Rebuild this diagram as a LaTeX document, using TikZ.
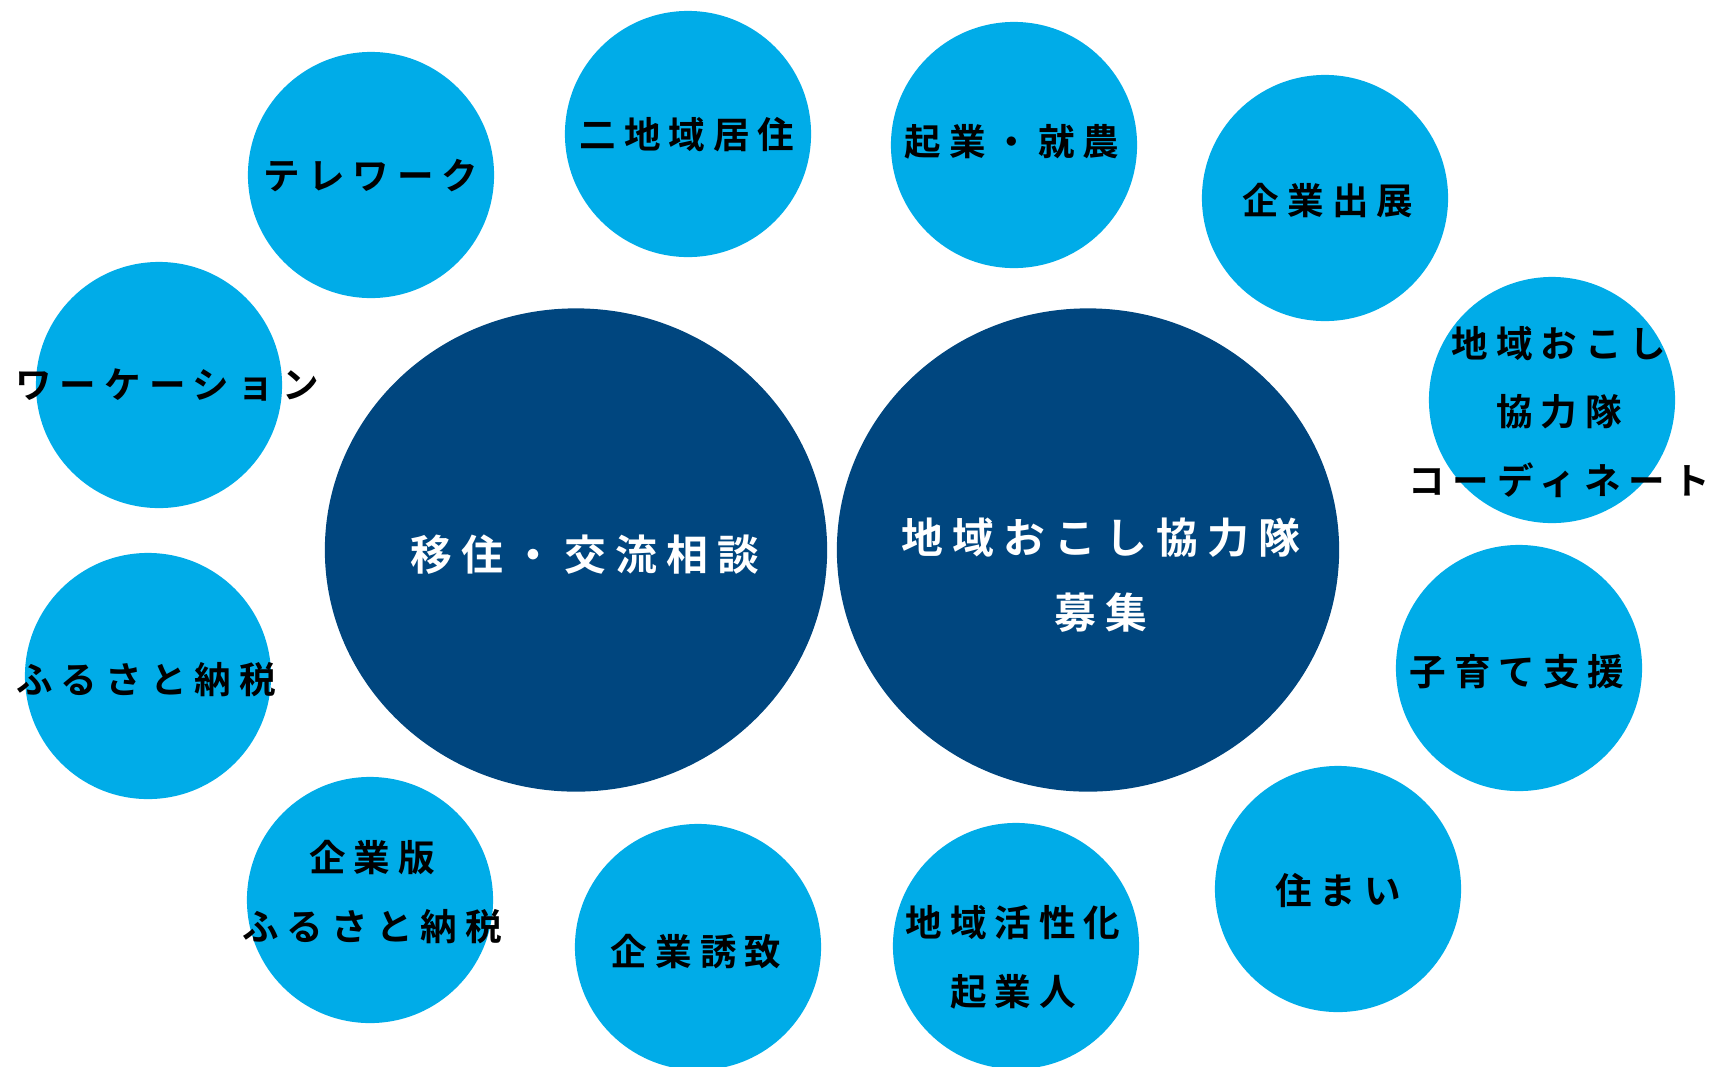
\documentclass[tikz,border=0pt]{standalone}
\usepackage{fontspec}
\setmainfont{Noto Sans CJK JP}[BoldFont={Noto Sans CJK JP Bold}, LetterSpace=22]
\usetikzlibrary{shapes.geometric}
\definecolor{skyblue}{HTML}{00ACE8}
\definecolor{navyblue}{HTML}{00467F}
\tikzstyle{bubble} = [circle, 
fill=skyblue, 
minimum size=2.46cm, 
inner sep=0pt]
\tikzstyle{bigbubble} = [ellipse, 
fill=navyblue, 
minimum width=5.02cm, 
minimum height=4.83cm, 
inner sep=0pt]
\tikzstyle{bubbletext} = [align=center, 
font=\fontsize{10.4pt}{19.6pt}\selectfont\bfseries, 
text=black]
\tikzstyle{bigtext} = [align=center, 
font=\fontsize{11.9pt}{21.3pt}\selectfont\bfseries, 
text=white]
\begin{document}
\begin{tikzpicture}[x=0.01cm, y=-0.01cm]

\useasboundingbox (0,0) rectangle (1709,1066);

% centre
\node (soudan) [bigbubble] at (576,550) {};
\node (soudantext) [bigtext] at (585,555) {移住・交流相談};

\node (boshu) [bigbubble] at (1088,550) {};
\node (boshutext) [bigtext] at (1101,575) {地域おこし協力隊\\募集};

% ring
\node (telework) [bubble] at (371,175) {};
\node (teleworktext) [bubbletext] at (371,176) {テレワーク};

\node (nikyoten) [bubble] at (688,134) {};
\node (nikyotentext) [bubbletext] at (687,135) {二地域居住};

\node (kigyou) [bubble] at (1014,145) {};
\node (kigyoutext) [bubbletext] at (1012,142) {起業・就農};

\node (shutten) [bubble] at (1325,198) {};
\node (shuttentext) [bubbletext] at (1328,201) {企業出展};

\node (coord) [bubble] at (1552,400) {};
\node (coordtext) [bubbletext] at (1559,412) {地域おこし\\協力隊\\コーディネート};

\node (kosodate) [bubble] at (1519,668) {};
\node (kosodatetext) [bubbletext] at (1517,672) {子育て支援};

\node (sumai) [bubble] at (1338,889) {};
\node (sumaitext) [bubbletext] at (1338,890) {住まい};

\node (kasseika) [bubble] at (1016,946) {};
\node (kasseikatext) [bubbletext] at (1013,957) {地域活性化\\起業人};

\node (yuchi) [bubble] at (698,947) {};
\node (yuchitext) [bubbletext] at (696,952) {企業誘致};

\node (kigyouban) [bubble] at (370,900) {};
\node (kigyoubantext) [bubbletext] at (372,892) {企業版\\ふるさと納税};

\node (furusato) [bubble] at (148,676) {};
\node (furusatotext) [bubbletext] at (146,680) {ふるさと納税};

\node (workation) [bubble] at (159,385) {};
\node (workationtext) [bubbletext] at (167,385) {ワーケーション};

\end{tikzpicture}
\end{document}
